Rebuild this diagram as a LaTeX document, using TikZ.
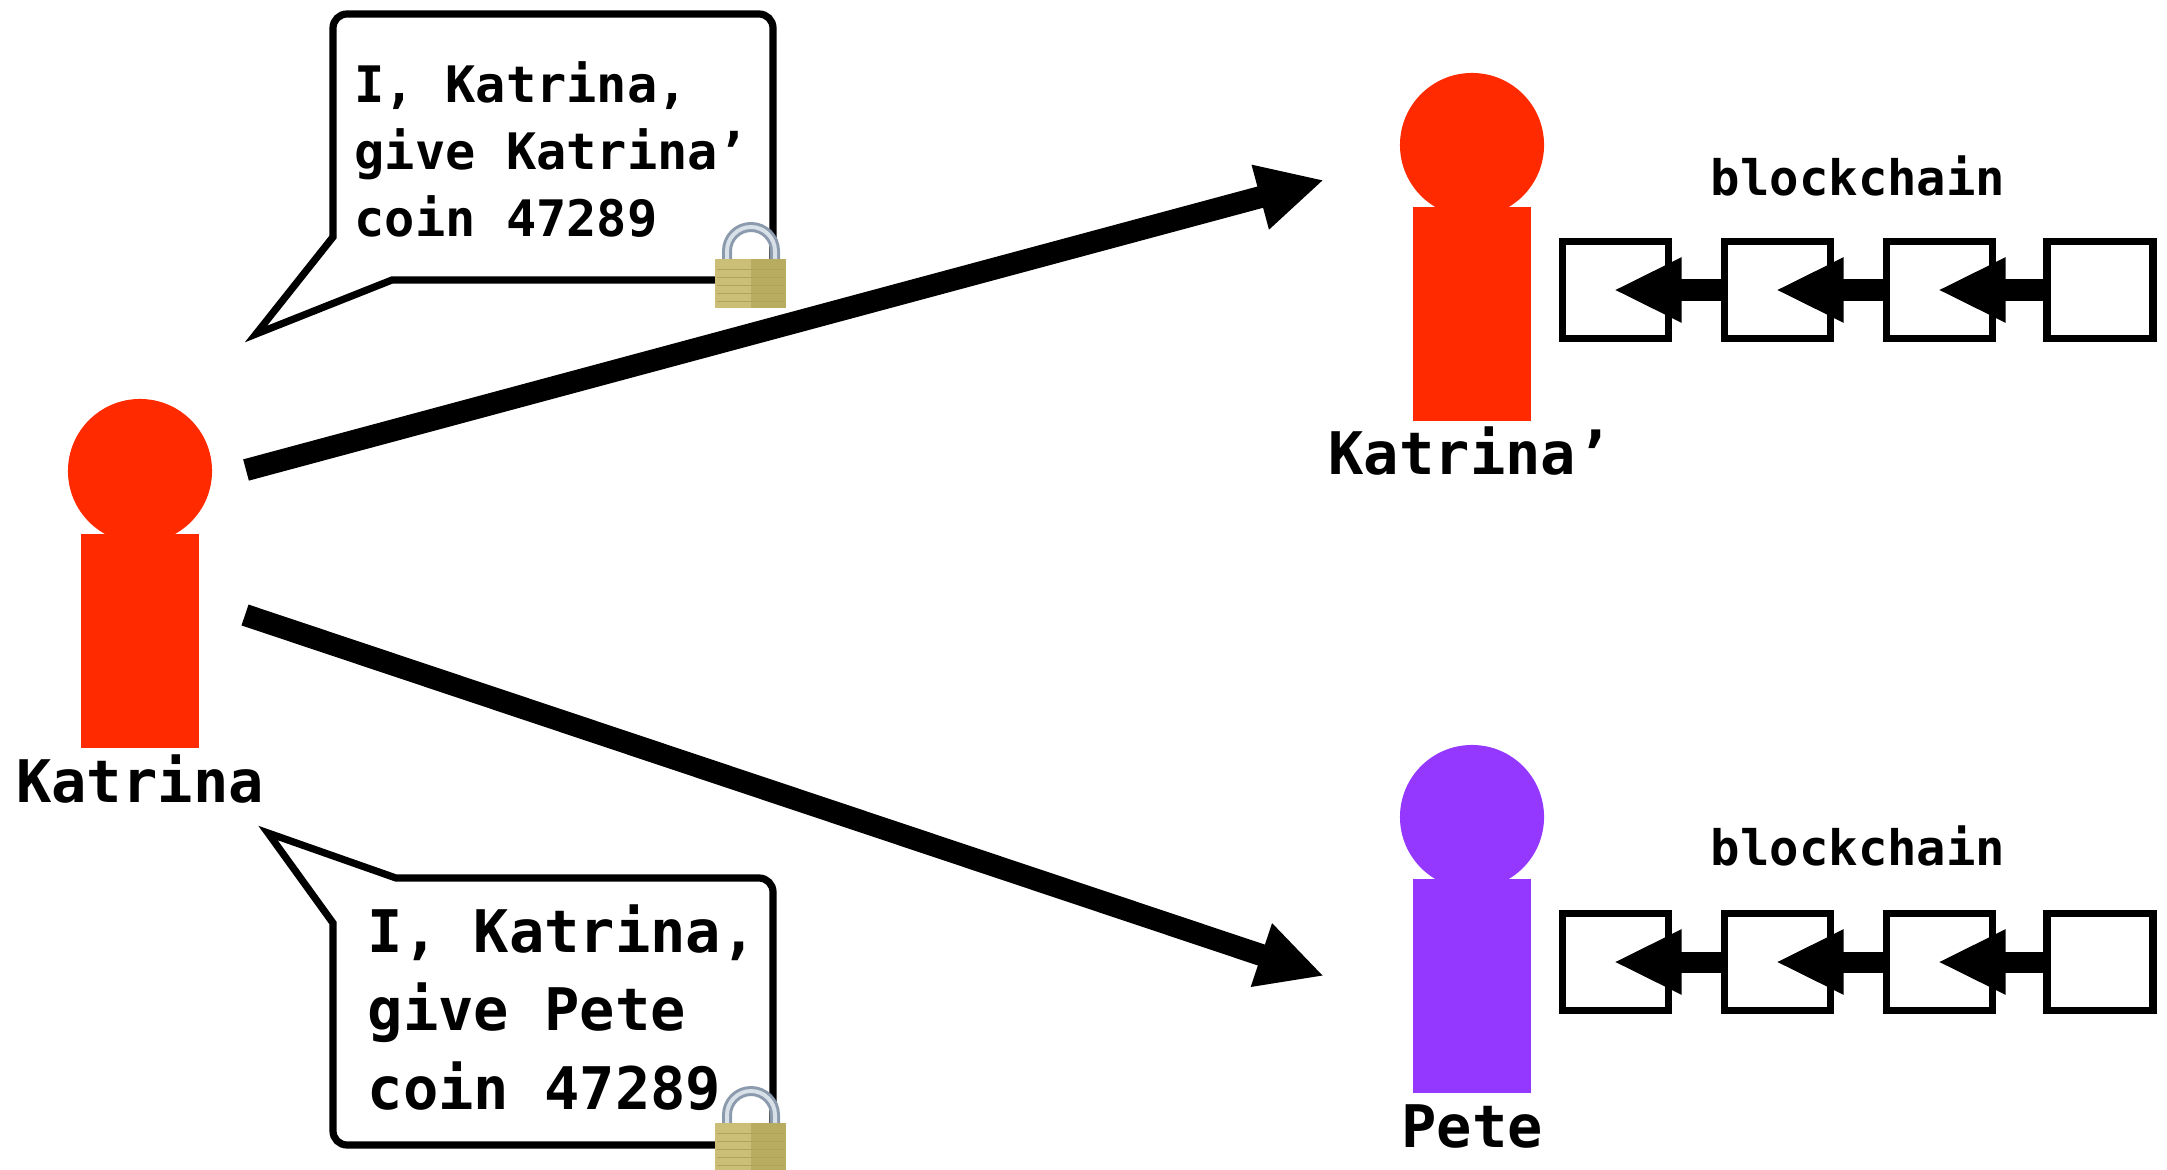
\documentclass[tikz,border=0pt]{standalone}
\usepackage{fontspec}
\usepackage{xcolor}
\usetikzlibrary{
    arrows.meta,
    positioning
}
\setmonofont{DejaVu Sans Mono}
\definecolor{personred}{HTML}{FF2A00}
\definecolor{personpurple}{HTML}{9437FF}
\definecolor{lockgold}{HTML}{CBBF78}
\definecolor{lockdark}{HTML}{B8AC60}
\definecolor{lockline}{HTML}{AFA35A}
\definecolor{locksteel}{HTML}{8C9AAE}
\definecolor{locklight}{HTML}{D8E0E8}
\tikzset{
    headdot/.style={circle, fill=#1, minimum size=1.44cm, inner sep=0pt},
    bodybar/.style={rectangle, fill=#1, minimum width=1.17cm, minimum height=2.13cm, inner sep=0pt},
    namelabel/.style={font=\ttfamily\bfseries\fontsize{16.7}{20}\selectfont},
    chainlabel/.style={font=\ttfamily\bfseries\fontsize{13.9}{16}\selectfont},
    blockbox/.style={draw, fill=white, line width=0.075cm, outer sep=0pt, inner sep=0pt, minimum width=1.06cm, minimum height=0.97cm},
    chainlink/.style={line width=0.21cm, shorten <=-0.035cm, shorten >=-0.02cm, -{Triangle[length=0.68cm, width=0.6cm]}},
    sendarrow/.style={line width=0.22cm, -{Triangle[length=0.66cm, width=0.62cm]}},
    bubble/.style={draw, fill=white, line width=0.072cm, miter limit=10},
    lock/.pic={
        \draw[locksteel, line width=0.10cm] (11, 2) -- (11, -8) arc (180:360:24) -- (59, 2);
        \draw[locklight, line width=0.04cm] (11, 2) -- (11, -8) arc (180:360:24) -- (59, 2);
        \fill[lockgold] (-1, 0) rectangle (35, 49);
        \fill[lockdark] (35, 0) rectangle (70, 49);
        \draw[lockline, line width=0.005cm] (1, 10) -- (68, 10) (1, 18) -- (68, 18) (1, 26) -- (68, 26) (1, 34) -- (68, 34) (1, 42) -- (68, 42);
    }
}

\begin{document}
\begin{tikzpicture}[x=0.01cm, y=-0.01cm]
    \useasboundingbox (0, 0) rectangle (2167, 1170);
    \clip (0, 0) rectangle (2167, 1170);

    % speech bubbles
    \draw[bubble] (333, 237) -- (333, 28) arc (180:270:14) -- (759, 14) arc (270:360:14) -- (773, 266) arc (0:90:14) -- (392, 280) -- (256, 334) -- cycle;
    \draw[bubble] (333, 923) -- (333, 1131) arc (180:90:14) -- (759, 1145) arc (90:0:14) -- (773, 892) arc (360:270:14) -- (396, 878) -- (268, 833) -- cycle;

    \node[anchor=base west, inner sep=0pt, align=left, font=\ttfamily\bfseries\fontsize{14.3}{19}\selectfont] (kmsg) at (354, 236) {I, Katrina,\\give Katrina’\\coin 47289};
    \node[anchor=base west, inner sep=0pt, align=left, font=\ttfamily\bfseries\fontsize{16.7}{22.2}\selectfont] (pmsg) at (367, 1109) {I, Katrina,\\give Pete\\coin 47289};

    \pic at (716, 259) {lock};
    \pic at (716, 1123) {lock};

    % people
    \node[headdot=personred] (khead) at (140, 471) {};
    \node[bodybar=personred] (kbody) at (140, 641) {};
    \node[namelabel] (kname) at (140, 779) {Katrina};

    \node[headdot=personred] (k2head) at (1472, 145) {};
    \node[bodybar=personred] (k2body) at (1472, 314) {};
    \node[namelabel] (k2name) at (1470, 451) {Katrina’};

    \node[headdot=personpurple] (phead) at (1472, 817) {};
    \node[bodybar=personpurple] (pbody) at (1472, 986) {};
    \node[namelabel] (pname) at (1472, 1126) {Pete};

    % sends
    \coordinate (kout) at (246, 470);
    \coordinate (k2in) at (1324, 180);
    \coordinate (pout) at (245, 615);
    \coordinate (pin) at (1324, 976);
    \draw[sendarrow] (kout) -- (k2in);
    \draw[sendarrow] (pout) -- (pin);

    % top chain
    \node[chainlabel] (topchain) at (1858, 176) {blockchain};
    \node[blockbox] (t1) at (1615.5, 290) {};
    \node[blockbox] (t2) at (1777.5, 290) {};
    \node[blockbox] (t3) at (1939.5, 290) {};
    \node[blockbox] (t4) at (2100, 290) {};
    \draw[chainlink] (t2.west) -- (t1.center);
    \draw[chainlink] (t3.west) -- (t2.center);
    \draw[chainlink] (t4.west) -- (t3.center);

    % bottom chain
    \node[chainlabel] (botchain) at (1858, 846) {blockchain};
    \node[blockbox] (b1) at (1615.5, 962) {};
    \node[blockbox] (b2) at (1777.5, 962) {};
    \node[blockbox] (b3) at (1939.5, 962) {};
    \node[blockbox] (b4) at (2100, 962) {};
    \draw[chainlink] (b2.west) -- (b1.center);
    \draw[chainlink] (b3.west) -- (b2.center);
    \draw[chainlink] (b4.west) -- (b3.center);
\end{tikzpicture}
\end{document}
